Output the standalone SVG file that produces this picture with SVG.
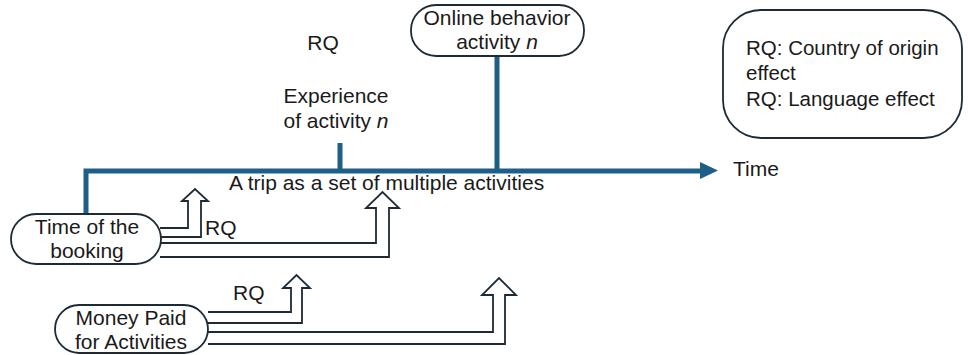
<svg xmlns="http://www.w3.org/2000/svg" width="968" height="355" viewBox="0 0 968 355">
<style>
.t{font-family:"Liberation Sans",Arial,sans-serif;font-size:21px;fill:#1a1a1a}
.s{font-size:20.5px}
.c{text-anchor:middle}
.node{fill:#fff;stroke:#1c2b36;stroke-width:1.8}
.blk{fill:none;stroke:#1c2b36;stroke-width:1.8;stroke-linejoin:miter}
.tl{fill:none;stroke:#1d5f87;stroke-width:5}
</style>
<rect width="968" height="355" fill="#fff"/>
<g id="connectors">
<path class="tl" d="M86,214 V171 H701"/>
<polygon points="700,162 718,170.5 700,179" fill="#1d5f87"/>
<path class="tl" d="M340,143 V171"/>
<path class="tl" d="M497,56 V171"/>
<path class="blk" d="M160,228 H188 V201 H182 L195,189 L208,201 H201 V237 H160"/>
<path class="blk" d="M160,243 H376 V208 H366 L382.5,192 L399,208 H389 V257 H160"/>
<path class="blk" d="M208,312 H291 V288 H283 L296.5,275 L310,288 H302 V323 H208"/>
<path class="blk" d="M208,332 H493 V295 H482 L499,278 L516,295 H505 V344 H208"/>
</g>
<g id="time-booking">
<rect class="node" x="11" y="214" width="150" height="50" rx="25" ry="25"/>
<text class="t c" x="87" y="234">Time of the</text>
<text class="t c" x="87" y="258">booking</text>
</g>
<g id="money-paid">
<rect class="node" x="55" y="305" width="153" height="48" rx="24" ry="24"/>
<text class="t c" x="131" y="325">Money Paid</text>
<text class="t c" x="131" y="349">for Activities</text>
</g>
<g id="online-behavior">
<rect class="node" x="411" y="5" width="173" height="51" rx="25" ry="25"/>
<text class="t c" x="497" y="25">Online behavior</text>
<text class="t c" x="497" y="49">activity <tspan font-style="italic">n</tspan></text>
</g>
<g id="rq-box">
<rect class="node" x="723" y="10" width="239" height="128" rx="38" ry="38"/>
<text class="t s" x="746" y="55">RQ: Country of origin</text>
<text class="t s" x="746" y="80">effect</text>
<text class="t s" x="746" y="106">RQ: Language effect</text>
</g>
<g id="experience">
<text class="t c" x="323" y="50">RQ</text>
<text class="t c" x="336" y="103">Experience</text>
<text class="t c" x="336" y="128">of activity <tspan font-style="italic">n</tspan></text>
</g>
<g id="labels">
<text class="t" x="229" y="190">A trip as a set of multiple activities</text>
<text class="t" x="733" y="176">Time</text>
<text class="t" x="205" y="235">RQ</text>
<text class="t" x="233" y="300">RQ</text>
</g>
</svg>
